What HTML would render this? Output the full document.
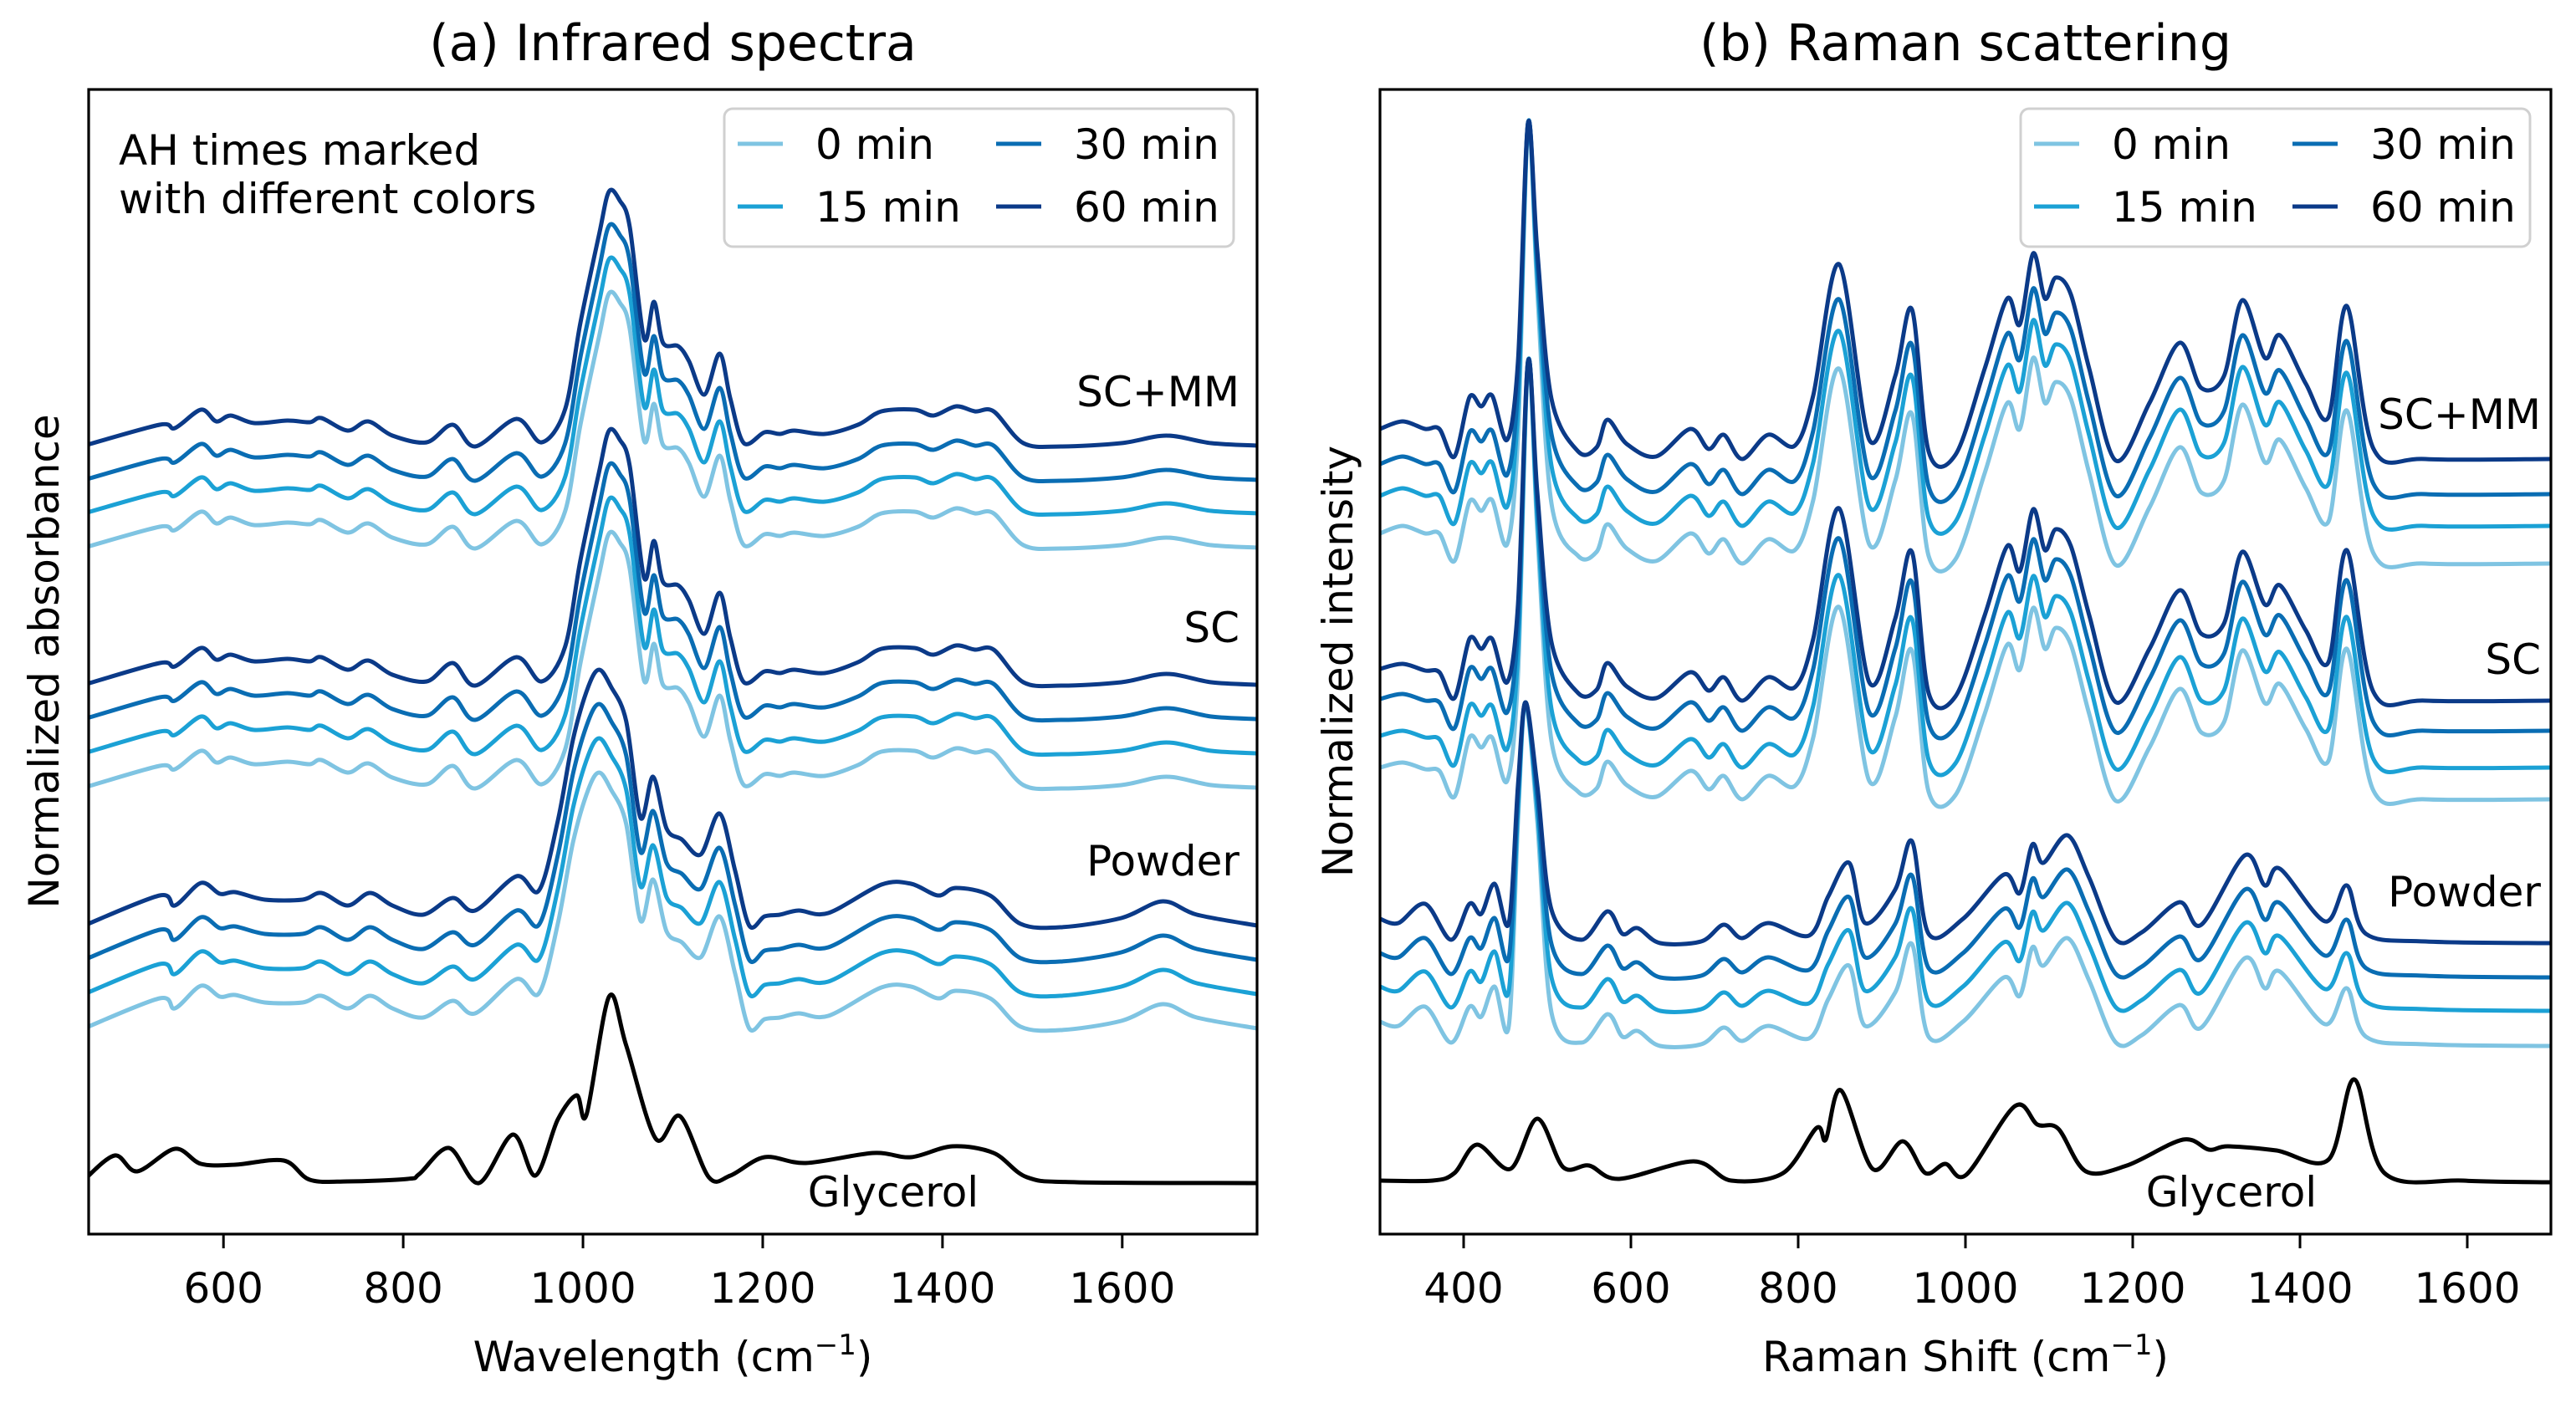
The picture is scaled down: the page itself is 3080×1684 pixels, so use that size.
<!DOCTYPE html>
<html><head><meta charset="utf-8">
<style>
html,body{margin:0;padding:0;background:#fff;}
svg{display:block;font-family:"DejaVu Sans","Liberation Sans",sans-serif;}
</style></head>
<body>
<svg id="fig" width="3080" height="1684" viewBox="0 0 3080 1684" xmlns="http://www.w3.org/2000/svg">
<rect width="3080" height="1684" fill="#fff"/>
<g id="panelA"></g>
<g id="panelB"></g>
</svg>
<script>
// ---------- data ----------
const timeLabels = ["0 min","15 min","30 min","60 min"];
const timeColors = ["#7fc4e2","#1ba1d5","#0a6db3","#0b3a88"];
const irTicks = [600,800,1000,1200,1400,1600];
const ramanTicks = [400,600,800,1000,1200,1400,1600];

// Infrared profiles: [wavenumber, relative absorbance]
const irPowder = [[445,0],[529,.36],[546,.24],[575,.51],[596,.38],[613,.40],[646,.31],[688,.31],[709,.39],[738,.24],[763,.39],[788,.24],[822,.13],[855,.33],[880,.18],[926,.59],[951,.42],[972,1.25],[989,2.23],[1006,2.86],[1018,3.06],[1031,2.86],[1048,2.45],[1064,1.29],[1078,1.78],[1093,1.16],[1110,1.03],[1131,.85],[1152,1.34],[1169,.67],[1185,0],[1202,.11],[1219,.13],[1240,.18],[1273,.15],[1332,.49],[1365,.50],[1395,.36],[1415,.45],[1453,.36],[1487,.02],[1532,-.02],[1599,.09],[1645,.29],[1683,.13],[1750,0]];
const irSC = [[445,0],[529,.26],[546,.22],[575,.44],[592,.30],[608,.36],[634,.28],[671,.31],[696,.28],[709,.33],[738,.18],[761,.29],[788,.12],[826,.04],[855,.26],[880,-.01],[926,.33],[954,.04],[980,.45],[997,1.48],[1018,2.55],[1029,3.04],[1041,2.93],[1052,2.62],[1068,1.28],[1079,1.72],[1089,1.23],[1106,1.19],[1118,1.01],[1135,.61],[1152,1.10],[1164,.56],[1179,.03],[1202,.16],[1219,.14],[1235,.18],[1269,.14],[1306,.27],[1332,.43],[1369,.44],[1390,.36],[1415,.47],[1436,.42],[1457,.42],[1490,.03],[1532,-.01],[1599,.03],[1649,.13],[1699,.03],[1750,0]];
const irSCMM = [[445,0],[529,.25],[546,.21],[575,.43],[592,.29],[608,.36],[634,.27],[671,.30],[696,.28],[709,.33],[738,.18],[761,.29],[788,.12],[826,.04],[855,.25],[880,-.01],[926,.32],[954,.04],[980,.43],[997,1.46],[1018,2.53],[1029,3.04],[1041,2.93],[1052,2.62],[1068,1.28],[1079,1.72],[1089,1.23],[1106,1.19],[1118,1.01],[1135,.61],[1152,1.10],[1164,.56],[1179,.03],[1202,.16],[1219,.14],[1235,.18],[1269,.14],[1306,.25],[1332,.41],[1369,.43],[1390,.36],[1415,.47],[1436,.41],[1457,.41],[1490,.03],[1532,-.01],[1599,.03],[1649,.12],[1699,.03],[1750,0]];
const irGlycerol = [[445,.02],[479,.31],[504,.12],[546,.39],[575,.21],[613,.20],[667,.25],[696,.02],[738,0],[805,.03],[818,.09],[851,.40],[884,-.02],[922,.56],[947,.07],[972,.74],[993,1.03],[1004,.80],[1029,2.21],[1048,1.63],[1081,.51],[1108,.78],[1140,.05],[1164,.07],[1202,.29],[1248,.22],[1323,.34],[1365,.29],[1411,.42],[1457,.34],[1494,.05],[1549,-.01],[1750,-.02]];
const irOffPowder = [2.46,2.87,3.28,3.69];
const irOffSC = [5.34,5.75,6.16,6.57];
const irOffSCMM = [8.21,8.62,9.02,9.43];
const irOffGlycerol = 0.63;

// Raman profiles: [shift, relative intensity]
const raSCMM = [[300,.36],[327,.45],[354,.36],[371,.36],[389,.03],[407,.74],[421,.63],[434,.76],[452,.23],[465,1.17],[477,4.02],[488,2.50],[505,.72],[537,.09],[559,.14],[572,.47],[595,.18],[630,.03],[671,.36],[693,.12],[711,.29],[733,0],[764,.29],[796,.16],[818,.76],[849,2.33],[885,.23],[916,.99],[936,1.79],[956,.09],[988,.05],[1023,1.08],[1050,1.92],[1065,1.61],[1081,2.46],[1095,1.92],[1108,2.17],[1126,1.97],[1148,1.08],[1180,-.02],[1220,.67],[1256,1.39],[1282,.85],[1309,.99],[1331,1.90],[1358,1.21],[1376,1.48],[1407,.90],[1434,.50],[1456,1.83],[1488,.12],[1550,0],[1700,0]];
const raSC = [[300,.38],[327,.44],[354,.36],[371,.34],[389,.03],[407,.74],[421,.62],[434,.74],[452,.22],[465,1.15],[477,4.06],[488,2.50],[505,.70],[537,.09],[559,.13],[572,.45],[595,.17],[630,.03],[671,.34],[693,.12],[711,.28],[733,0],[764,.28],[796,.16],[818,.74],[849,2.30],[885,.22],[916,.98],[936,1.78],[956,.09],[988,.05],[1023,1.02],[1050,1.85],[1065,1.55],[1081,2.29],[1095,1.80],[1108,2.05],[1126,1.85],[1148,1.02],[1180,-.02],[1220,.62],[1256,1.32],[1282,.80],[1309,.92],[1331,1.78],[1358,1.15],[1376,1.38],[1407,.84],[1434,.46],[1456,1.80],[1488,.10],[1550,0],[1700,0]];
const raPowder = [[300,.27],[322,.22],[354,.45],[385,.02],[407,.45],[421,.33],[437,.69],[454,.22],[465,1.87],[474,2.86],[488,1.87],[505,.38],[541,.02],[572,.36],[590,.09],[608,.16],[635,-.02],[684,0],[711,.20],[733,.04],[764,.22],[813,.07],[836,.54],[861,.94],[880,.22],[916,.62],[936,1.20],[956,.09],[997,.27],[1046,.80],[1065,.58],[1080,1.16],[1093,.94],[1122,1.27],[1148,.76],[1180,.02],[1211,.11],[1256,.47],[1282,.20],[1334,1.03],[1358,.67],[1376,.87],[1430,.24],[1456,.67],[1479,.09],[1550,0],[1700,-.02]];
const raGlycerol = [[300,0],[363,0],[389,.09],[416,.43],[456,.14],[488,.74],[519,.16],[550,.18],[586,.02],[675,.23],[720,0],[782,.09],[822,.63],[833,.49],[851,1.08],[889,.14],[925,.47],[952,.09],[976,.20],[1001,.07],[1059,.89],[1086,.67],[1111,.62],[1144,.11],[1193,.18],[1260,.49],[1291,.37],[1314,.41],[1372,.36],[1434,.25],[1465,1.21],[1501,.09],[1595,0],[1700,-.02]];
const raOffPowder = [2.27,2.69,3.09,3.50];
const raOffSC = [5.20,5.58,6.02,6.38];
const raOffSCMM = [8.02,8.47,8.85,9.27];
const raOffGlycerol = 0.64;
// ~475 cm-1 band height per AH time (0,15,30,60 min)
const raPeakSCMM = [5.27,4.82,4.44,4.02];
const raPeakSC = [5.24,4.86,4.42,4.06];
const raPeakPowder = [4.09,3.67,3.27,2.86];

// ---------- drawing ----------
const NS = "http://www.w3.org/2000/svg";
function mk(tag, parent, attrs){ const e=document.createElementNS(NS,tag); for(const k in attrs) e.setAttribute(k,attrs[k]); parent.appendChild(e); return e; }
function txt(parent, s, attrs){ const t=mk("text",parent,attrs); t.textContent=s; return t; }

function spline(pts){
  let d="M"+pts[0][0].toFixed(1)+","+pts[0][1].toFixed(1);
  for(let i=0;i<pts.length-1;i++){
    const p0=pts[Math.max(0,i-1)], p1=pts[i], p2=pts[i+1], p3=pts[Math.min(pts.length-1,i+2)];
    const t=0.16;
    const c1=[p1[0]+(p2[0]-p0[0])*t, p1[1]+(p2[1]-p0[1])*t];
    const c2=[p2[0]-(p3[0]-p1[0])*t, p2[1]-(p3[1]-p1[1])*t];
    d+="C"+c1[0].toFixed(1)+","+c1[1].toFixed(1)+" "+c2[0].toFixed(1)+","+c2[1].toFixed(1)+" "+p2[0].toFixed(1)+","+p2[1].toFixed(1);
  }
  return d;
}

function panel(g, cfg){
  const L=cfg.left, R=cfg.right, T=107, B=1476;
  const xs = v => L + (v-cfg.xmin)/(cfg.xmax-cfg.xmin)*(R-L);
  const ys = v => B - v/13.69*(B-T);
  const clip = mk("clipPath", g, {id:cfg.id+"clip"});
  mk("rect", clip, {x:L, y:T, width:R-L, height:B-T});
  const plot = mk("g", g, {"clip-path":"url(#"+cfg.id+"clip)"});
  
  
  cfg.groups.forEach(gr=>{
    const profMax = Math.max(...gr.prof.map(p=>p[1]));
    for(let t=0;t<4;t++){
      const pts = gr.prof.map(p=>{
        let v=p[1];
        if(gr.peak && p[0]>=460 && p[0]<=495) v = v*gr.peak[t]/profMax;
        return [xs(p[0]), ys(gr.off[t]+v)];
      });
      const path = mk("path", plot, {d:spline(pts), fill:"none", stroke:timeColors[t], "stroke-width":5, "stroke-linejoin":"round"});
      
      
    }
  });
  const gp = cfg.gly.map(p=>[xs(p[0]), ys(cfg.glyOff+p[1])]);
  const gl = mk("path", plot, {d:spline(gp), fill:"none", stroke:"#000", "stroke-width":5, "stroke-linejoin":"round"});
  
  
  cfg.labels.forEach(lb=>{
    const t = txt(g, lb[0], {x:lb[1], y:lb[2], "font-size":50, "text-anchor":lb[3], fill:"#000"});
    
    
  });
  const fr = mk("rect", g, {x:L, y:T, width:R-L, height:B-T, fill:"none", stroke:"#000", "stroke-width":3.2});
  
  
  cfg.ticks.forEach(v=>{
    const x=xs(v);
    const tk = mk("line", g, {x1:x, x2:x, y1:B, y2:B+17, stroke:"#000", "stroke-width":3});
    
    
    const tl = txt(g, String(v), {x:x, y:1558, "font-size":50, "text-anchor":"middle"});
    
    
  });
  const title = txt(g, cfg.title, {x:(L+R)/2, y:72, "font-size":60, "text-anchor":"middle"});
  
  
  const xl = txt(g, cfg.xlabel, {x:(L+R)/2, y:1640, "font-size":50, "text-anchor":"middle"});
  const sup = mk("tspan", xl, {"font-size":34, dy:-20}); sup.textContent="\u22121";
  const cl = mk("tspan", xl, {dy:20}); cl.textContent=")";
  
  
  const yl = txt(g, cfg.ylabel, {x:0, y:0, "font-size":50, "text-anchor":"middle", transform:"translate("+cfg.ylx+",791) rotate(-90)"});
  
  
  const lx=cfg.legX, lg=mk("g", g, {});
  
  
  mk("rect", lg, {x:lx, y:130, width:609, height:165, rx:10, fill:"#fff", "fill-opacity":0.85, stroke:"#d0d0d0", "stroke-width":3});
  const pos=[[0,172],[0,247],[309,172],[309,247]];
  for(let t=0;t<4;t++){
    const [dx,y]=pos[t];
    const en = mk("g", lg, {});
    
    
    mk("line", en, {x1:lx+16+dx, x2:lx+70+dx, y1:y, y2:y, stroke:timeColors[t], "stroke-width":5});
    txt(en, timeLabels[t], {x:lx+109+dx, y:y+18, "font-size":50});
  }
}

panel(document.getElementById("panelA"), {
  id:"a", left:106, right:1503, xmin:450, xmax:1750, ticks:irTicks,
  title:"(a) Infrared spectra", xlabel:"Wavelength (cm", ylabel:"Normalized absorbance", ylx:70, legX:866,
  groups:[{name:"powder",prof:irPowder,off:irOffPowder},{name:"sc",prof:irSC,off:irOffSC},{name:"scmm",prof:irSCMM,off:irOffSCMM}],
  gly:irGlycerol, glyOff:irOffGlycerol,
  labels:[["SC+MM",1482,486,"end","group-label-scmm"],["SC",1482,768,"end","group-label-sc"],["Powder",1482,1047,"end","group-label-powder"],["Glycerol",1068,1443,"middle","group-label-glycerol"]]
});
panel(document.getElementById("panelB"), {
  id:"b", left:1650, right:3050, xmin:300, xmax:1700, ticks:ramanTicks,
  title:"(b) Raman scattering", xlabel:"Raman Shift (cm", ylabel:"Normalized intensity", ylx:1617, legX:2416,
  groups:[{name:"powder",prof:raPowder,off:raOffPowder,peak:raPeakPowder},{name:"sc",prof:raSC,off:raOffSC,peak:raPeakSC},{name:"scmm",prof:raSCMM,off:raOffSCMM,peak:raPeakSCMM}],
  gly:raGlycerol, glyOff:raOffGlycerol,
  labels:[["SC+MM",3038,513,"end","group-label-scmm"],["SC",3038,806,"end","group-label-sc"],["Powder",3038,1084,"end","group-label-powder"],["Glycerol",2668,1443,"middle","group-label-glycerol"]]
});
const ann = txt(document.getElementById("panelA"), "", {x:142, y:197, "font-size":50});


const a1 = mk("tspan", ann, {x:142}); a1.textContent="AH times marked";
const a2 = mk("tspan", ann, {x:142, dy:58}); a2.textContent="with different colors";
</script>
</body></html>
